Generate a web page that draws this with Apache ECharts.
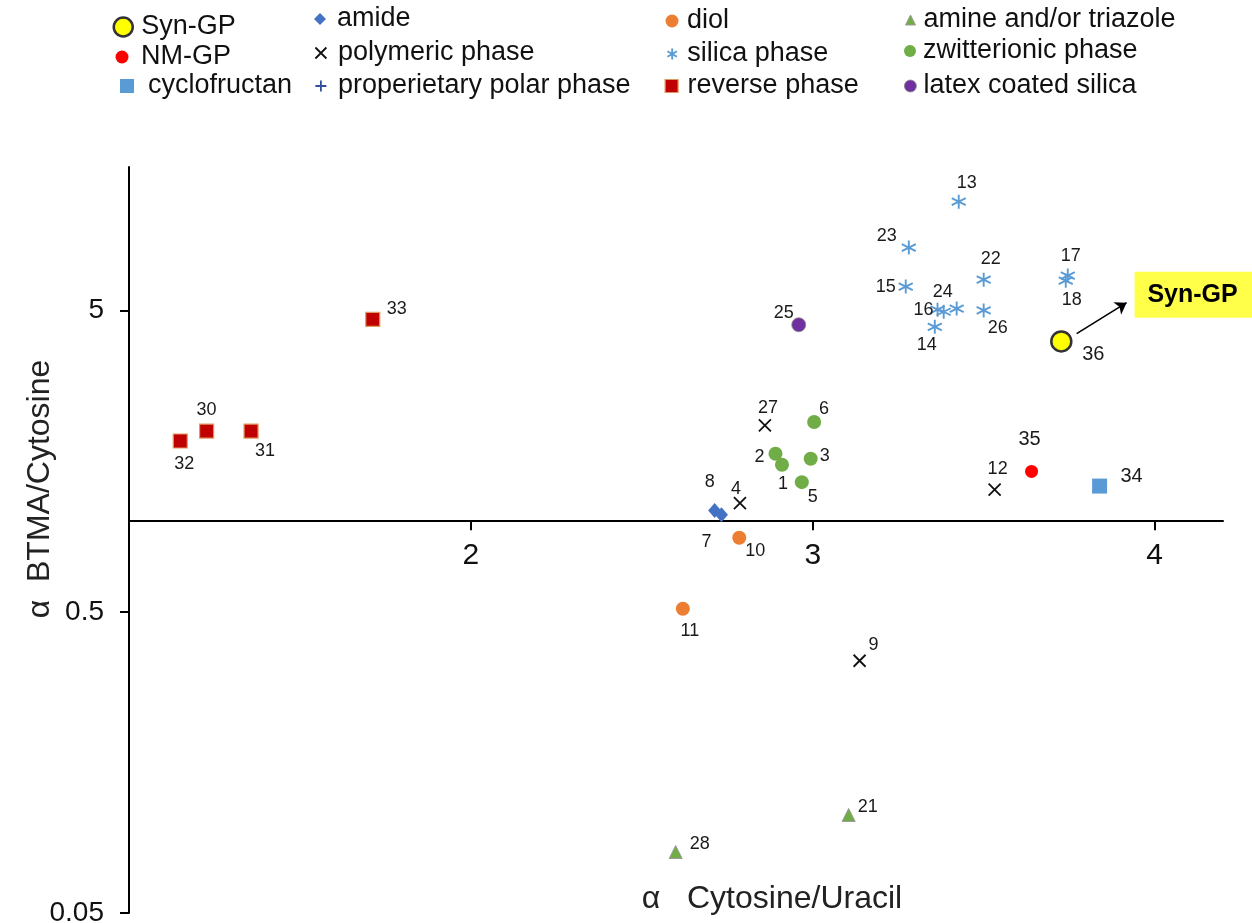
<!DOCTYPE html>
<html><head><meta charset="utf-8">
<script src="https://cdn.jsdelivr.net/npm/echarts@6/dist/echarts.min.js"></script>
<style>html,body{margin:0;padding:0;background:#fff}#c{width:1252px;height:923px}</style>
</head><body><div id="c"></div>
<script>
// ---- data: [x = alpha Cytosine/Uracil, y = alpha BTMA/Cytosine, point id]
const synGP = [[3.727, 3.954, '36']];
const nmGP = [[3.640, 1.463, '35']];
const cyclofructan = [[3.839, 1.308, '34']];
const amide = [[2.713, 1.085, '8'], [2.733, 1.050, '7']];
const polymeric = [[2.860, 2.08, '27'], [2.787, 1.148, '4'], [3.532, 1.274, '12'], [3.137, 0.344, '9']];
const properietary = [];
const diol = [[2.785, 0.881, '10'], [2.620, 0.512, '11']];
const silica = [[3.427, 11.51, '13'], [3.281, 8.10, '23'], [3.272, 6.01, '15'], [3.500, 6.34, '22'],
  [3.365, 5.04, '16'], [3.383, 4.96, '24'], [3.421, 5.08, ''], [3.357, 4.42, '14'], [3.500, 5.01, '26'],
  [3.746, 6.54, '17'], [3.740, 6.29, '18']];
const reversePhase = [[1.713, 4.68, '33'], [1.227, 1.992, '30'], [1.357, 1.992, '31'], [1.150, 1.846, '32']];
const amine = [[3.105, 0.1058, '21'], [2.599, 0.0797, '28']];
const zwitterionic = [[3.004, 2.134, '6'], [2.891, 1.675, '2'], [2.910, 1.539, '1'], [2.994, 1.612, '3'], [2.968, 1.348, '5']];
const latex = [[2.959, 4.49, '25']];
const xTickValues = [2, 3, 4];
const yTickValues = [0.05, 0.5, 5];
const synGPArrow = [[3.772, 4.195], [3.918, 5.316]];

// ---- styling
const FONT = '"Liberation Sans", Arial, Helvetica, sans-serif';
const X_PATH = 'path://M0,0L10,10M10,0L0,10';
const PLUS_PATH = 'path://M5,0L5,10M0,5L10,5';
const AST_PATH = 'path://M5,0L5,10M0.7,2.5L9.3,7.5M0.7,7.5L9.3,2.5';
const labelOffset = {
  '13': [8, -19], '23': [-22, -12], '15': [-20, 0], '22': [7, -21], '24': [-1, -20], '16': [-14, 0],
  '14': [-8, 18], '26': [14, 18], '17': [3, -20], '18': [6, 19], '36': [32, 13], '35': [-2, -32],
  '12': [3, -20], '34': [32, -10], '33': [24, -10], '30': [0, -21], '31': [14, 20], '32': [4, 23],
  '25': [-15, -12], '27': [3, -17], '6': [10, -13], '2': [-16, 3], '3': [14, -3], '1': [1, 19],
  '5': [11, 15], '8': [-5, -28], '4': [-4, -14], '7': [-15, 27], '10': [16, 13], '11': [7, 22],
  '9': [14, -16], '21': [19, -8], '28': [24, -8]
};
const bigLabels = ['36', '35', '34'];

const seriesDefs = [
  { name: 'Syn-GP', data: synGP, symbol: 'circle', size: 20, style: { color: '#ffff00', borderColor: '#333', borderWidth: 2.5 }, z: 5 },
  { name: 'NM-GP', data: nmGP, symbol: 'circle', size: 13, style: { color: '#ff0000' } },
  { name: 'cyclofructan', data: cyclofructan, symbol: 'rect', size: 15, style: { color: '#5b9bd5' } },
  { name: 'amide', data: amide, symbol: 'diamond', size: [13, 15], style: { color: '#4472c4' } },
  { name: 'polymeric phase', data: polymeric, symbol: X_PATH, size: 12, style: { color: 'rgba(0,0,0,0)', borderColor: '#111', borderWidth: 1.8 } },
  { name: 'properietary polar phase', data: properietary, symbol: PLUS_PATH, size: 11, style: { color: 'rgba(0,0,0,0)', borderColor: '#2f4f9f', borderWidth: 1.8 } },
  { name: 'diol', data: diol, symbol: 'circle', size: 14, style: { color: '#ed7d31' } },
  { name: 'silica phase', data: silica, symbol: AST_PATH, size: 14, style: { color: 'rgba(0,0,0,0)', borderColor: '#5b9bd5', borderWidth: 1.9 } },
  { name: 'reverse phase', data: reversePhase, symbol: 'rect', size: 14, style: { color: '#c00000', borderColor: '#e09a60', borderWidth: 1.2 } },
  { name: 'amine and/or triazole', data: amine, symbol: 'triangle', size: 13, style: { color: '#70ad47', borderColor: '#9a9a9a', borderWidth: 1 } },
  { name: 'zwitterionic phase', data: zwitterionic, symbol: 'circle', size: 14, style: { color: '#70ad47' } },
  { name: 'latex coated silica', data: latex, symbol: 'circle', size: 14, style: { color: '#7030a0', borderColor: '#888', borderWidth: 0.8 } }
];

// legend layout: name, icon center x, row center y, icon size, text start x
const legendLayout = [
  ['Syn-GP', 122, 27, 19, 140], ['NM-GP', 122, 57, 13, 141], ['cyclofructan', 127, 86, 14, 148],
  ['amide', 320, 19, 12, 337], ['polymeric phase', 320, 53, 11, 337], ['properietary polar phase', 320, 86, 11, 337],
  ['diol', 672, 21, 13, 687], ['silica phase', 672, 54, 11, 687], ['reverse phase', 671, 86, 13, 687],
  ['amine and/or triazole', 910, 20, 10, 923], ['zwitterionic phase', 910, 51, 12, 923], ['latex coated silica', 910, 86, 12, 923]
];

const Y_MIN = 0.05, Y_MAX = 15;
const GRID = { left: 129, top: 167, width: 1094, height: 746, outerBoundsMode: 'none', containLabel: false };
const xAxisOffset = -GRID.height * Math.log10(1 / Y_MIN) / Math.log10(Y_MAX / Y_MIN);

const series = seriesDefs.map(d => ({
  type: 'scatter', name: d.name, symbol: d.symbol, symbolSize: d.size, z: d.z || 3,
  itemStyle: Object.assign({ opacity: 1 }, d.style),
  emphasis: { disabled: true },
  label: { show: true, position: 'inside', formatter: p => p.value[2], color: '#1a1a1a', fontFamily: FONT, fontSize: 18 },
  data: d.data.map(p => ({
    value: p,
    label: { offset: labelOffset[p[2]] || [0, 0], fontSize: bigLabels.includes(p[2]) ? 20 : 18 }
  }))
}));
series[0].markLine = {
  silent: true, symbol: ['none', 'arrow'], symbolSize: 11, animation: false,
  lineStyle: { color: '#000', width: 1.6, type: 'solid' }, label: { show: false },
  data: [[{ coord: synGPArrow[0] }, { coord: synGPArrow[1] }]]
};

const legends = legendLayout.map(([name, cx, cy, s, tx]) => {
  const def = seriesDefs.find(d => d.name === name);
  return {
    left: cx - s / 2, top: cy - 15, padding: 0, itemWidth: s, itemHeight: s, selectedMode: false,
    data: [{ name, icon: def.symbol, itemStyle: Object.assign({ borderWidth: 0 }, def.style) }],
    textStyle: { fontSize: 27, fontFamily: FONT, color: '#111', lineHeight: 30, padding: [0, 0, 0, Math.max(0, tx - cx - s / 2 - 5)] }
  };
});

const chart = echarts.init(document.getElementById('c'), null, { renderer: 'canvas' });
chart.setOption({
  animation: false,
  backgroundColor: '#fff',
  grid: GRID,
  legend: legends,
  xAxis: {
    type: 'value', min: 1, max: 4.2, position: 'bottom', offset: xAxisOffset,
    axisLine: { onZero: false, lineStyle: { color: '#000', width: 2 } },
    axisTick: { show: true, length: 9, customValues: xTickValues, lineStyle: { color: '#000', width: 2 } },
    axisLabel: { customValues: xTickValues, fontSize: 30, margin: 20, color: '#111', fontFamily: FONT },
    splitLine: { show: false }
  },
  yAxis: {
    type: 'log', logBase: 10, min: Y_MIN, max: Y_MAX,
    axisLine: { onZero: false, lineStyle: { color: '#000', width: 2 } },
    axisTick: { show: true, length: 9, customValues: yTickValues, lineStyle: { color: '#000', width: 2 } },
    axisLabel: { customValues: yTickValues, fontSize: 28, margin: 25, color: '#111', fontFamily: FONT,
      formatter: v => String(Number(Number(v).toPrecision(3))) },
    splitLine: { show: false }, minorTick: { show: false }
  },
  series
});

const end = chart.convertToPixel({ gridIndex: 0 }, synGPArrow[1]);
chart.setOption({
  graphic: [
    { type: 'text', x: 40, y: 489, rotation: Math.PI / 2,
      style: { text: 'α  BTMA/Cytosine', font: '32px ' + FONT, fill: '#222', textAlign: 'center', textVerticalAlign: 'middle' } },
    { type: 'text', x: 772, y: 899,
      style: { text: 'α   Cytosine/Uracil', font: '32px ' + FONT, fill: '#222', textAlign: 'center', textVerticalAlign: 'middle' } },
    { type: 'rect', x: end[0] + 8, y: end[1] - 31, shape: { width: 130, height: 46 }, style: { fill: '#ffff4a' }, z: 10 },
    { type: 'text', x: end[0] + 66, y: end[1] - 8, z: 11,
      style: { text: 'Syn-GP', font: 'bold 25px ' + FONT, fill: '#000', textAlign: 'center', textVerticalAlign: 'middle' } }
  ]
});
</script></body></html>
